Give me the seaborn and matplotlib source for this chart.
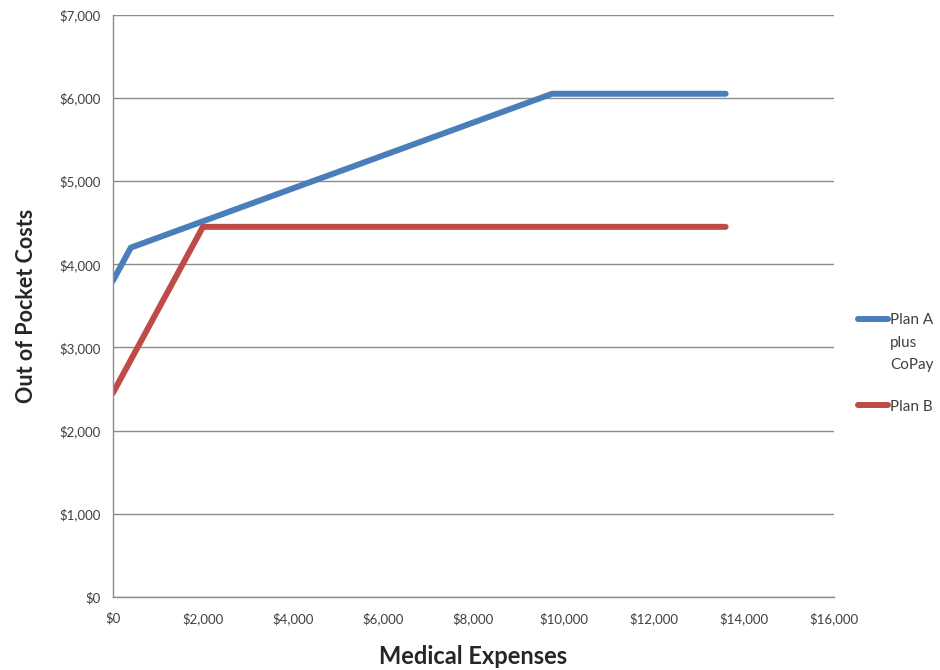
import matplotlib
matplotlib.use("Agg")
import matplotlib.pyplot as plt
import matplotlib.ticker as mticker
from matplotlib.legend_handler import HandlerLine2D
import pandas as pd
import seaborn as sns

# Out-of-pocket cost curves for two insurance plans
plan_a_expenses = [0, 400, 2000, 9750, 13600]
plan_a_costs = [3800, 4200, 4517, 6050, 6050]
plan_b_expenses = [0, 2000, 13600]
plan_b_costs = [2450, 4450, 4450]
series_names = ["Plan A\nplus\nCoPay", "Plan B"]
series_colors = ["#4A7EBB", "#BE4B48"]

df = pd.concat([
    pd.DataFrame({"expenses": plan_a_expenses, "cost": plan_a_costs, "plan": series_names[0]}),
    pd.DataFrame({"expenses": plan_b_expenses, "cost": plan_b_costs, "plan": series_names[1]}),
])

sns.set_style("white")
plt.rcParams["font.family"] = ["Lato", "DejaVu Sans"]

fig = plt.figure(figsize=(9.4, 6.7), dpi=100)
ax = fig.add_axes([0.120, 0.109, 0.767, 0.869])

sns.lineplot(data=df, x="expenses", y="cost", hue="plan", palette=series_colors,
             linewidth=4.3, sort=False, ax=ax, legend=True,
             solid_capstyle="round", solid_joinstyle="round")

ax.set_xlim(0, 16000)
ax.set_ylim(0, 7000)
ax.xaxis.set_major_locator(mticker.MultipleLocator(2000))
ax.yaxis.set_major_locator(mticker.MultipleLocator(1000))
fmt = mticker.FuncFormatter(lambda v, p: f"${v:,.0f}")
ax.xaxis.set_major_formatter(fmt)
ax.yaxis.set_major_formatter(fmt)

ax.yaxis.grid(True, color="#8C8C8C", linewidth=1.0)
ax.xaxis.grid(False)
ax.set_axisbelow(True)
for side in ("top", "right"):
    ax.spines[side].set_visible(False)
for side in ("left", "bottom"):
    ax.spines[side].set_color("#8C8C8C")
    ax.spines[side].set_linewidth(1.0)

ax.tick_params(axis="both", which="major", direction="out", length=5, width=1,
               color="#8C8C8C", labelsize=9.5, labelcolor="#404040", pad=4)
ax.tick_params(axis="x", pad=6)

ax.set_xlabel("Medical Expenses", fontsize=17, fontweight="bold", labelpad=14)
ax.set_ylabel("Out of Pocket Costs", fontsize=15.5, fontweight="bold", labelpad=16)


class TopLineHandler(HandlerLine2D):
    """Places the legend line next to the first line of a multi-line label."""

    def __init__(self, n_lines, step_pt, **kw):
        super().__init__(**kw)
        self.n_lines = n_lines
        self.step_pt = step_pt

    def create_artists(self, legend, orig_handle, xdescent, ydescent, width,
                       height, fontsize, trans):
        artists = super().create_artists(legend, orig_handle, xdescent, ydescent,
                                         width, height, fontsize, trans)
        shift = (self.n_lines - 1) / 2 * self.step_pt
        for a in artists:
            if hasattr(a, "get_ydata"):
                a.set_ydata([y + shift for y in a.get_ydata()])
        return artists


legend_size = 11
line_spacing = 1.77
step_pt = line_spacing * legend_size * 0.887
handles, labels = ax.get_legend_handles_labels()
handler_map = {h: TopLineHandler(lab.count("\n") + 1, step_pt)
               for h, lab in zip(handles, labels)}

leg = ax.legend(handles, labels, loc="upper left", bbox_to_anchor=(1.025, 0.498),
                frameon=False, fontsize=legend_size, handlelength=1.96,
                handletextpad=0.13, labelspacing=1.8, borderaxespad=0,
                labelcolor="#404040", handler_map=handler_map)
for t in leg.get_texts():
    t.set_linespacing(line_spacing)
    t.set_multialignment("left")

fig.savefig("out.png", dpi=100)
